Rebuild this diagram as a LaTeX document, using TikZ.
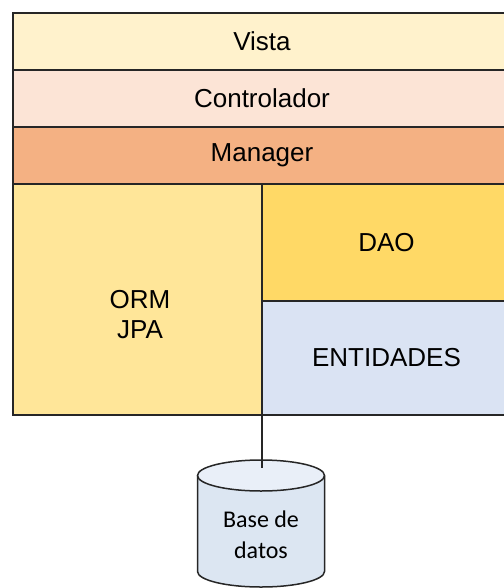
\documentclass[tikz,border=0pt]{standalone}
\usepackage{fontspec}
\setmainfont{Liberation Sans}
\newfontfamily\calibri{Carlito}
\definecolor{vistac}{HTML}{FFF2CC}
\definecolor{ctrlc}{HTML}{FCE4D6}
\definecolor{mgrc}{HTML}{F4B183}
\definecolor{ormc}{HTML}{FFE699}
\definecolor{daoc}{HTML}{FFD966}
\definecolor{entc}{HTML}{DAE3F3}
\definecolor{bdc}{HTML}{DCE6F2}
\definecolor{bdtopc}{HTML}{E9EFF8}

\begin{document}
\begin{tikzpicture}[x=1pt,y=-1pt]
 \tikzstyle{capa}=[rectangle,draw=black!85,line width=1.5pt,inner sep=0pt,outer sep=0pt,anchor=north west,font=\fontsize{26}{30}\selectfont]
 \tikzstyle{conex}=[draw=black!85,line width=1.5pt]
 \useasboundingbox (0,0) rectangle (503,588);
 %
 \node[capa, fill=vistac, minimum width=498pt, minimum height=57pt] (vista) at (13,13) {Vista};
 \node[capa, fill=ctrlc, minimum width=498pt, minimum height=57pt] (ctrl) at (13,70) {Controlador};
 \node[capa, fill=mgrc, minimum width=498pt, minimum height=57pt] (mgr) at (13,127) {Manager};
 \node[capa, fill=ormc, minimum width=249pt, minimum height=231pt] (orm) at (13,184) {};
 \node[capa, fill=daoc, minimum width=249pt, minimum height=117pt] (dao) at (262,184) {DAO};
 \node[capa, fill=entc, minimum width=249pt, minimum height=114pt] (ent) at (262,301) {ENTIDADES};
 \node[align=center, font=\fontsize{26}{30}\selectfont] (ormtxt) at (140,315) {ORM\\JPA};
 %
 % base de datos
 \fill[bdc] (197.5,475.5) -- (197.5,571.5) arc (180:0:63.5 and 15.5) -- (324.5,475.5) arc (0:-180:63.5 and 15.5) -- cycle;
 \draw[conex] (197.5,475.5) -- (197.5,571.5) arc (180:0:63.5 and 15.5) -- (324.5,475.5);
 \draw[conex, fill=bdtopc] (261,475.5) ellipse (63.5 and 15.5);
 \node[align=center, font=\calibri\fontsize{24}{31}\selectfont] (bd) at (261,535) {Base de\\datos};
 \coordinate (bdtop) at (262,468);
 %
 \draw[conex] (orm.south east) -- (bdtop);
\end{tikzpicture}
\end{document}
